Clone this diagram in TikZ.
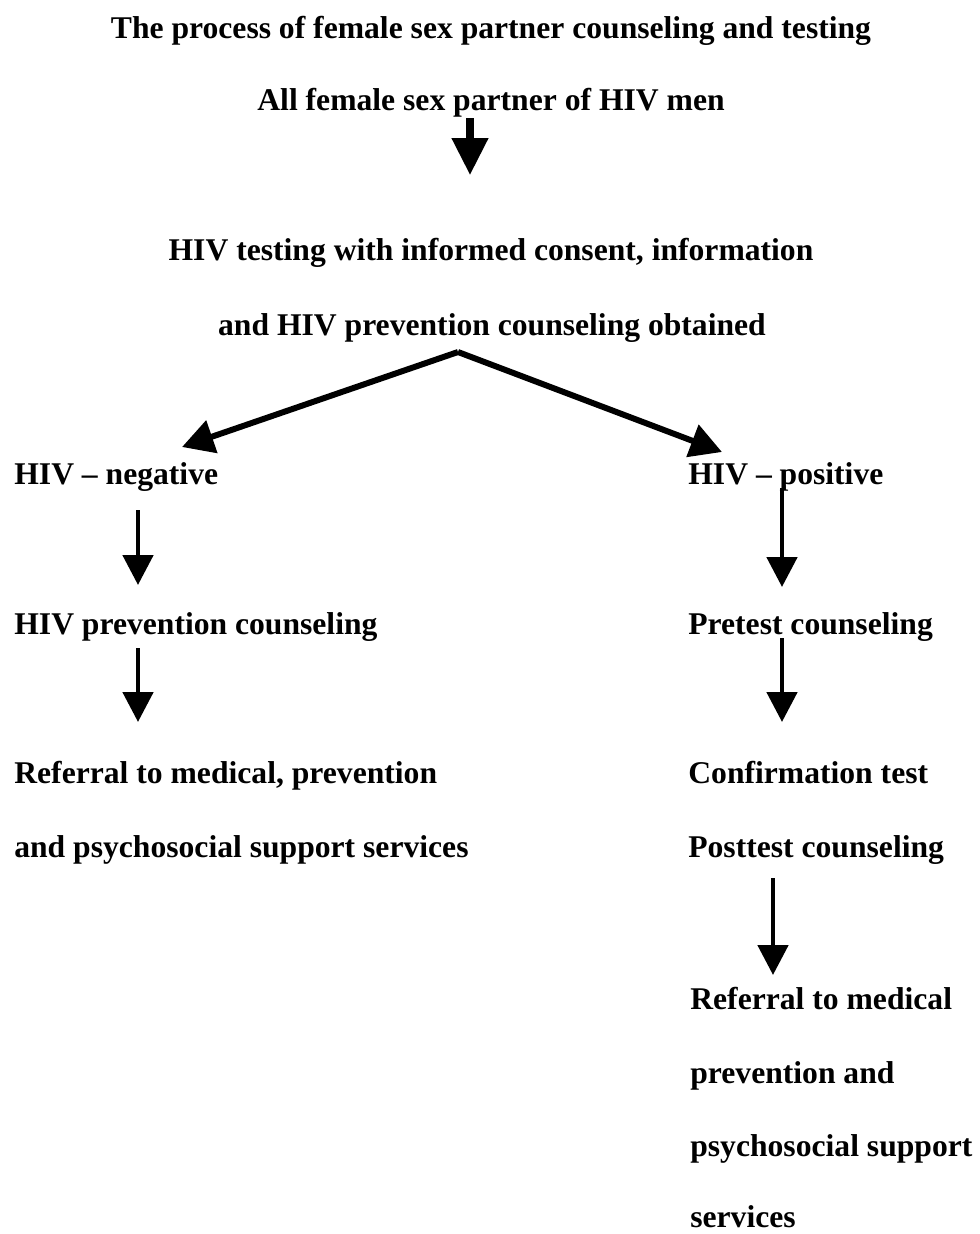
\documentclass[tikz,border=0pt]{standalone}
\usepackage{fontspec}
\setmainfont{Liberation Serif}
\usetikzlibrary{arrows.meta}
\tikzset{
  hiv text/.style={font=\bfseries\fontsize{18}{22}\selectfont, inner sep=0pt, text=black},
  hiv arrow/.style={draw=black, line width=2.8pt, -{Triangle[length=17pt,width=17pt]}},
  hiv branch/.style={hiv arrow, line width=3.4pt, -{Triangle[length=18pt,width=19pt]}},
  hiv big arrow/.style={draw=black, line width=4pt, -{Triangle[length=21pt,width=20pt]}},
}

\begin{document}
\begin{tikzpicture}[x=0.02cm,y=-0.02cm]
\useasboundingbox (0,0) rectangle (980,1234);
% top part
\node[hiv text,anchor=base](title)at(491,38){The process of female sex partner counseling and testing};
\node[hiv text,anchor=base](allfsp)at(491,110){All female sex partner of HIV men};
\node[hiv text,anchor=base](test1)at(491,260){HIV testing with informed consent, information};
\node[hiv text,anchor=base](test2)at(492,335){and HIV prevention counseling obtained};
\draw[hiv big arrow]([shift={(-21,8)}]allfsp.base)--([shift={(-21,-85)}]test1.base);
% negative branch
\node[hiv text,anchor=base west](neg)at(14,484){HIV -- negative};
\node[hiv text,anchor=base west](negcoun)at(14,634){HIV prevention counseling};
\node[hiv text,anchor=base west](negref1)at(14,783){Referral to medical, prevention};
\node[hiv text,anchor=base west](negref2)at(14,857){and psychosocial support services};
\draw[hiv branch]([shift={(-34,17)}]test2.base)--([shift={(168,-37)}]neg.base west);
\draw[hiv arrow]([shift={(124,26)}]neg.base west)--([shift={(124,-49)}]negcoun.base west);
\draw[hiv arrow]([shift={(124,14)}]negcoun.base west)--([shift={(124,-61)}]negref1.base west);
% positive branch
\node[hiv text,anchor=base west](pos)at(688,484){HIV -- positive};
\node[hiv text,anchor=base west](pretest)at(688,634){Pretest counseling};
\node[hiv text,anchor=base west](confirm)at(688,783){Confirmation test};
\node[hiv text,anchor=base west](posttest)at(688,857){Posttest counseling};
\node[hiv text,anchor=base west](posref1)at(690,1009){Referral to medical};
\node[hiv text,anchor=base west](posref2)at(690,1083){prevention and};
\node[hiv text,anchor=base west](posref3)at(690,1156){psychosocial support};
\node[hiv text,anchor=base west](posref4)at(690,1227){services};
\draw[hiv branch]([shift={(-34,17)}]test2.base)--([shift={(34,-32)}]pos.base west);
\draw[hiv arrow]([shift={(94,4)}]pos.base west)--([shift={(94,-47)}]pretest.base west);
\draw[hiv arrow]([shift={(94,4)}]pretest.base west)--([shift={(94,-61)}]confirm.base west);
\draw[hiv arrow]([shift={(85,21)}]posttest.base west)--([shift={(83,-34)}]posref1.base west);
\end{tikzpicture}
\end{document}
